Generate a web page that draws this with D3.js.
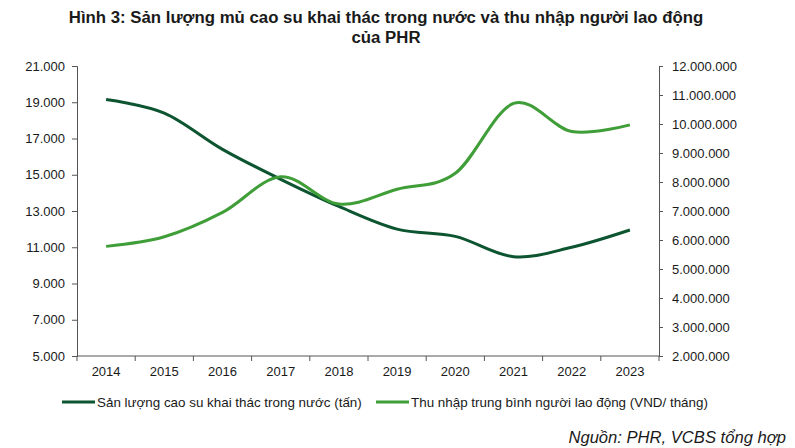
<!DOCTYPE html>
<html>
<head>
<meta charset="utf-8">
<script src="https://d3js.org/d3.v7.min.js"></script>
<style>
  body { margin: 0; background: #fff; }
  text { font-family: "Liberation Sans", Arial, sans-serif; fill: #1a1a1a; }
</style>
</head>
<body>
<svg id="chart" width="795" height="448"></svg>
<script>
// data
const years = ["2014", "2015", "2016", "2017", "2018", "2019", "2020", "2021", "2022", "2023"];
const sanLuong = [19150, 18400, 16400, 14750, 13250, 12000, 11600, 10480, 11000, 11950];
const thuNhap = [5780000, 6110000, 6950000, 8180000, 7240000, 7750000, 8300000, 10710000, 9740000, 9970000];
const leftTicks = [5000, 7000, 9000, 11000, 13000, 15000, 17000, 19000, 21000];
const rightTicks = [2e6, 3e6, 4e6, 5e6, 6e6, 7e6, 8e6, 9e6, 10e6, 11e6, 12e6];
const seriesNames = ["Sản lượng cao su khai thác trong nước (tấn)", "Thu nhập trung bình người lao động (VND/ tháng)"];
const colors = ["#0d5530", "#3f9e37"];

const svg = d3.select("#chart");
const mLeft = 77, mRight = 659, mTop = 66, mBottom = 356;

const fmt = d3.formatLocale({ decimal: ",", thousands: ".", grouping: [3], currency: ["", ""] }).format(",.0f");

const x = d3.scaleBand().domain(years).range([mLeft, mRight]);
const yL = d3.scaleLinear().domain([5000, 21000]).range([mBottom, mTop]);
const yR = d3.scaleLinear().domain([2e6, 12e6]).range([mBottom, mTop]);

const axisColor = "#555";

// title
svg.append("text").attr("x", 386).attr("y", 23).attr("text-anchor", "middle")
  .style("font-weight", "bold").style("font-size", "16.8px")
  .text("Hình 3: Sản lượng mủ cao su khai thác trong nước và thu nhập người lao động");
svg.append("text").attr("x", 386).attr("y", 43).attr("text-anchor", "middle")
  .style("font-weight", "bold").style("font-size", "16.8px")
  .text("của PHR");

// left axis
const gL = svg.append("g").attr("transform", `translate(${mLeft},0)`)
  .call(d3.axisLeft(yL).tickValues(leftTicks).tickFormat(fmt).tickSizeOuter(0).tickSize(5).tickPadding(7));
// right axis
const gR = svg.append("g").attr("transform", `translate(${mRight},0)`)
  .call(d3.axisRight(yR).tickValues(rightTicks).tickFormat(fmt).tickSizeOuter(0).tickSize(4).tickPadding(9));
// x axis: ticks at band boundaries
const gX = svg.append("g").attr("transform", `translate(0,${mBottom})`);
gX.append("line").attr("x1", mLeft).attr("x2", mRight).attr("stroke", axisColor);
gX.selectAll("line.tk").data(years.concat(["end"])).join("line").attr("class", "tk")
  .attr("x1", (d, i) => mLeft + i * x.step()).attr("x2", (d, i) => mLeft + i * x.step())
  .attr("y1", 0).attr("y2", 5).attr("stroke", axisColor);
gX.selectAll("text").data(years).join("text")
  .attr("x", d => x(d) + x.bandwidth() / 2).attr("y", 20)
  .attr("text-anchor", "middle").style("font-size", "13px").text(d => d);

[gL, gR].forEach(g => {
  g.selectAll(".domain, line").attr("stroke", axisColor);
  g.selectAll("text").style("font-size", "13px").attr("fill", "#1a1a1a");
});

// lines
const cx = d => x(d) + x.bandwidth() / 2;
const lineL = d3.line().x((d, i) => cx(years[i])).y(d => yL(d)).curve(d3.curveCatmullRom.alpha(0));
const lineR = d3.line().x((d, i) => cx(years[i])).y(d => yR(d)).curve(d3.curveCatmullRom.alpha(0));
svg.append("path").attr("d", lineL(sanLuong)).attr("fill", "none").attr("stroke", colors[0]).attr("stroke-width", 3);
svg.append("path").attr("d", lineR(thuNhap)).attr("fill", "none").attr("stroke", colors[1]).attr("stroke-width", 3);

// legend
const legendX = [62, 376];
const lg = svg.append("g");
seriesNames.forEach((name, i) => {
  lg.append("line").attr("x1", legendX[i]).attr("x2", legendX[i] + 33).attr("y1", 402).attr("y2", 402)
    .attr("stroke", colors[i]).attr("stroke-width", 3);
  lg.append("text").attr("x", legendX[i] + 35).attr("y", 407).style("font-size", "13.4px").text(name);
});

// source
svg.append("text").attr("x", 786).attr("y", 443).attr("text-anchor", "end")
  .style("font-style", "italic").style("font-size", "16.6px").text("Nguồn: PHR, VCBS tổng hợp");
</script>
</body>
</html>
